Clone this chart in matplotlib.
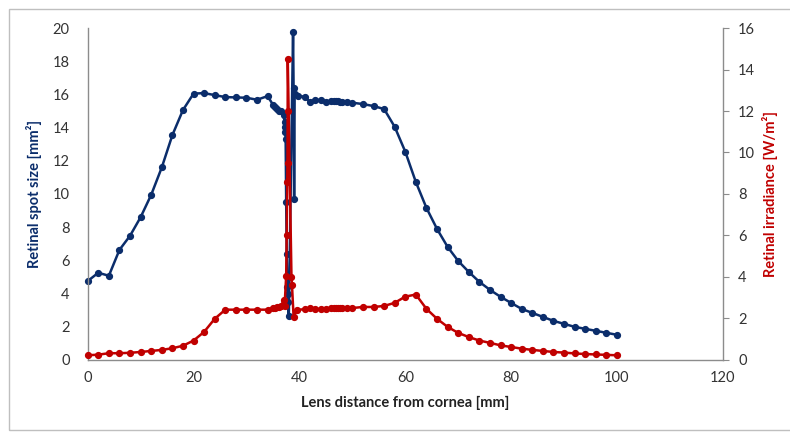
import numpy as np
import matplotlib.pyplot as plt
from matplotlib.patches import Rectangle

plt.rcParams['font.family'] = ['Lato', 'DejaVu Sans']

# lens distance from cornea [mm] and retinal spot size [mm^2]
dist_spot = [0, 2, 4, 6, 8, 10, 12, 14, 16, 18, 20, 22, 24, 26, 28, 30, 32, 34,
             35, 35.4, 35.7, 36.2, 36.6, 37.0, 37.2, 37.3, 37.35, 37.4, 37.5, 37.6,
             37.7, 37.75, 37.8, 38.0, 38.8, 38.9, 39.0, 39.1, 39.7, 41, 42, 43, 44,
             45, 46, 46.5, 47, 47.3, 47.6, 48, 49, 50, 52, 54, 56, 58, 60, 62, 64,
             66, 68, 70, 72, 74, 76, 78, 80, 82, 84, 86, 88, 90, 92, 94, 96, 98, 100]
spot_size = [4.75, 5.25, 5.07, 6.63, 7.48, 8.6, 9.95, 11.6, 13.55, 15.06, 16.05,
             16.08, 15.96, 15.84, 15.82, 15.8, 15.68, 15.9, 15.38, 15.25, 15.12,
             15.0, 15.0, 14.75, 14.35, 14.04, 13.75, 13.3, 9.5, 6.4, 4.4, 3.97, 3.5,
             2.65, 19.75, 16.4, 9.7, 16.0, 15.9, 15.87, 15.55, 15.66, 15.66, 15.55,
             15.6, 15.62, 15.6, 15.58, 15.55, 15.56, 15.55, 15.5, 15.42, 15.3, 15.12,
             14.05, 12.55, 10.72, 9.16, 7.89, 6.81, 5.96, 5.3, 4.7, 4.22, 3.8, 3.43,
             3.07, 2.83, 2.59, 2.35, 2.17, 1.99, 1.87, 1.75, 1.63, 1.51]

# retinal irradiance [W/m^2]
dist_irr = [0, 2, 4, 6, 8, 10, 12, 14, 16, 18, 20, 22, 24, 26, 28, 30, 32, 34,
            35, 35.4, 35.7, 36.2, 36.6, 37.0, 37.2, 37.5, 37.6, 37.7, 37.75, 37.78,
            37.8, 38.5, 38.6, 38.9, 39.5, 41, 42, 43, 44, 45, 46, 46.5, 47, 47.3,
            47.6, 48, 49, 50, 52, 54, 56, 58, 60, 62, 64, 66, 68, 70, 72, 74, 76,
            78, 80, 82, 84, 86, 88, 90, 92, 94, 96, 98, 100]
irradiance = [0.22, 0.25, 0.32, 0.32, 0.34, 0.38, 0.43, 0.48, 0.56, 0.68, 0.93,
              1.35, 1.98, 2.42, 2.42, 2.42, 2.42, 2.42, 2.48, 2.5, 2.53, 2.55, 2.6,
              2.9, 2.6, 4.05, 6.0, 8.6, 9.5, 12.0, 14.5, 4.0, 3.6, 2.07, 2.4, 2.45,
              2.5, 2.45, 2.45, 2.45, 2.48, 2.5, 2.5, 2.5, 2.5, 2.5, 2.5, 2.5, 2.55,
              2.55, 2.6, 2.75, 3.05, 3.15, 2.46, 1.98, 1.59, 1.3, 1.1, 0.93, 0.82,
              0.7, 0.62, 0.54, 0.48, 0.43, 0.38, 0.35, 0.31, 0.28, 0.26, 0.24, 0.22]

navy = '#0B2D6B'
red = '#C00000'
grey = '#8C8C8C'

fig, ax = plt.subplots(figsize=(7.9, 4.32), dpi=100)
fig.subplots_adjust(left=0.111, right=0.915, bottom=0.167, top=0.935)
ax2 = ax.twinx()

ax.plot(dist_spot, spot_size, '-o', color=navy, lw=1.8, ms=4.2, zorder=2, clip_on=False)
ax2.plot(dist_irr, irradiance, '-o', color=red, lw=1.8, ms=4.2, zorder=3, clip_on=False)

ax.set_xlim(0, 120)
ax.set_ylim(0, 20)
ax2.set_ylim(0, 16)
ax.set_xticks(np.arange(0, 121, 20))
ax.set_yticks(np.arange(0, 21, 2))
ax2.set_yticks(np.arange(0, 17, 2))

for a in (ax, ax2):
    a.spines['top'].set_visible(False)
    for s in ('left', 'right', 'bottom'):
        a.spines[s].set_color(grey)
        a.spines[s].set_linewidth(1.0)
    a.tick_params(labelsize=10.5, colors='#333333')
ax.tick_params(axis='both', length=0, pad=8)
ax.tick_params(axis='y', pad=13)
ax2.tick_params(axis='y', length=4, color=grey, pad=7)
ax.spines['right'].set_visible(False)
ax2.spines['left'].set_visible(False)
ax2.spines['bottom'].set_visible(False)

ax.set_xlabel('Lens distance from cornea [mm]', fontsize=10.5, fontweight='bold',
              color='#222222', labelpad=8)
ax.set_ylabel('Retinal spot size [mm²]', fontsize=10.5, fontweight='bold',
              color=navy, labelpad=8)
ax2.set_ylabel('Retinal irradiance [W/m²]', fontsize=10.5, fontweight='bold',
               color=red, labelpad=5)

# chart frame
fig.patches.append(Rectangle((0.011, 0.005), 1.0, 0.975, transform=fig.transFigure,
                             fill=False, edgecolor='#BFBFBF', lw=1.0))

fig.savefig('out.png', dpi=100)
